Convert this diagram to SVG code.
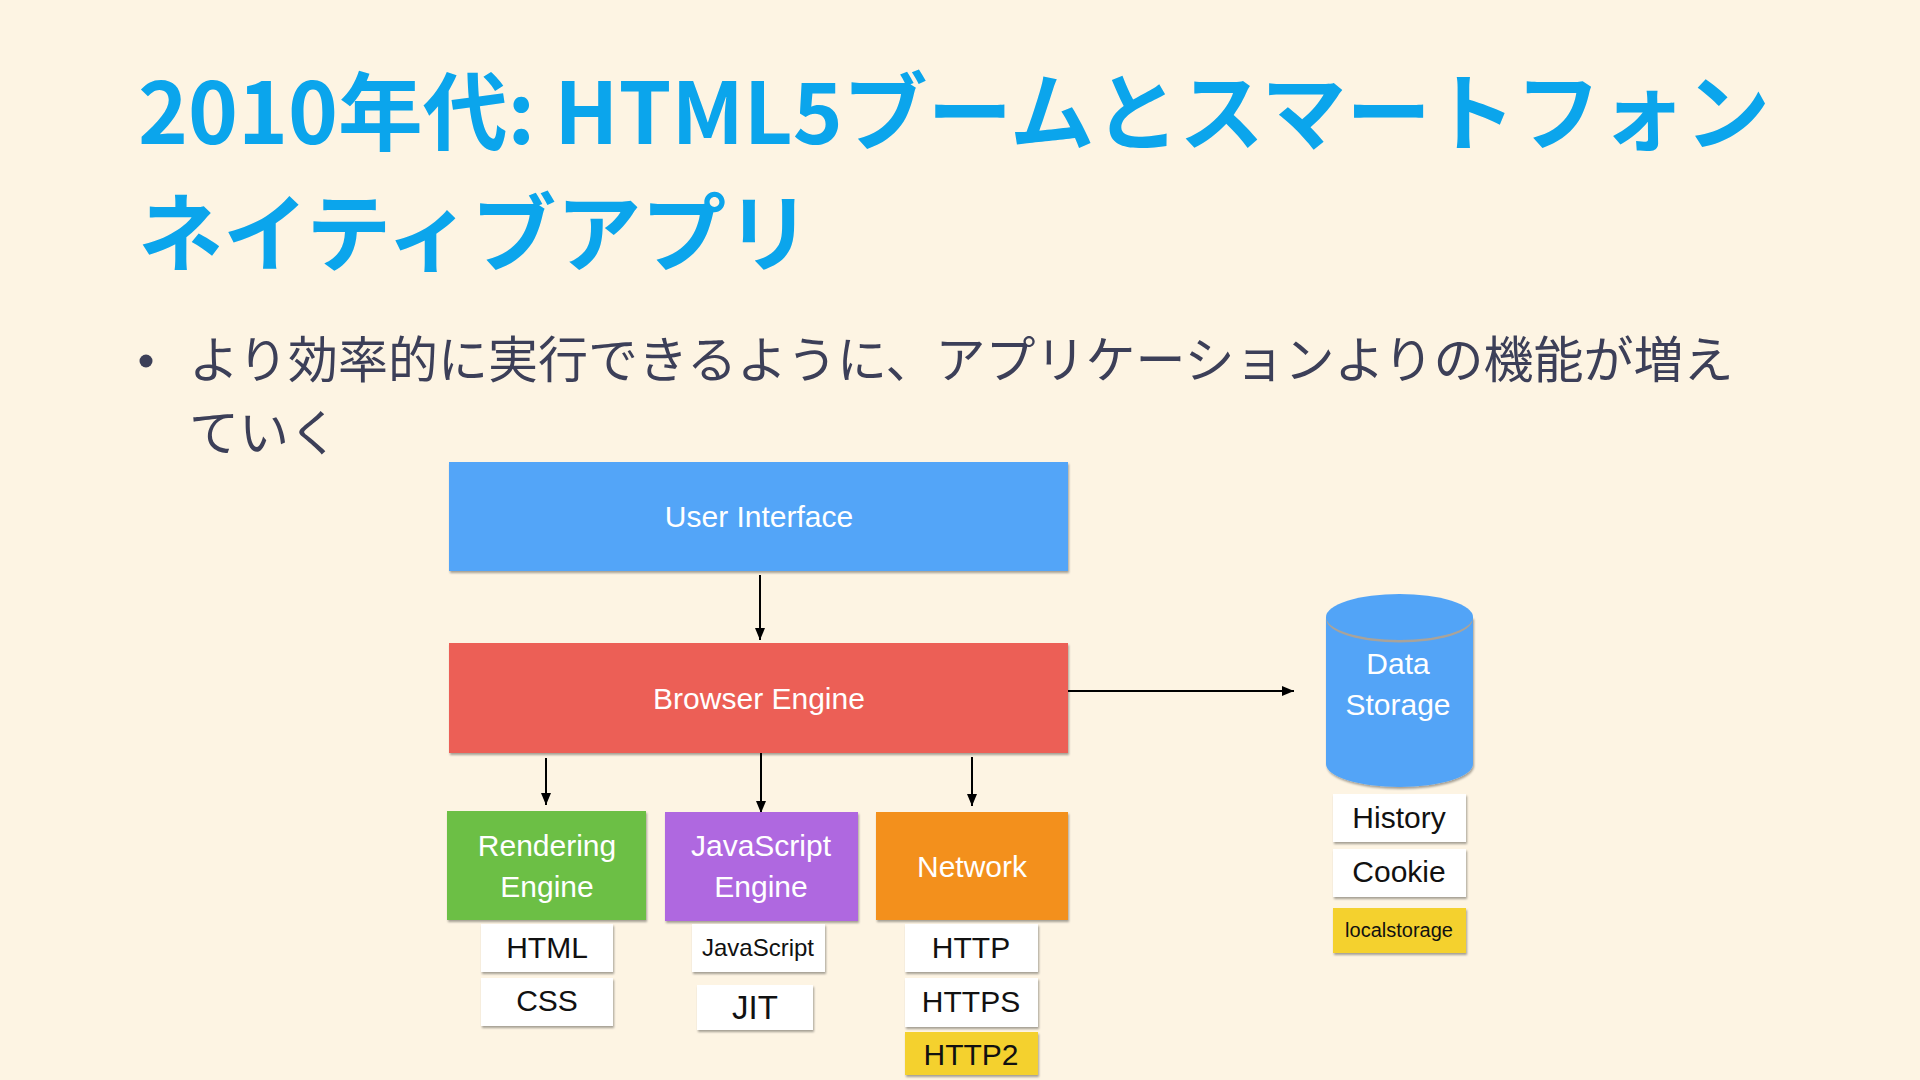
<svg xmlns="http://www.w3.org/2000/svg" width="1920" height="1080" viewBox="0 0 1920 1080">
  <defs>
    <style>
      .title { font-family: "Noto Sans CJK JP", "Noto Sans", sans-serif; font-weight: 700; font-size: 85px; fill: #0BA5EC; }
      .body { font-family: "Noto Sans CJK JP", "Noto Sans", sans-serif; font-weight: 400; font-size: 50px; fill: #3C3F58; }
      .lbl { font-family: "Liberation Sans", Arial, sans-serif; font-size: 30px; fill: #FFFFFF; text-anchor: middle; }
      .sub { font-family: "Liberation Sans", Arial, sans-serif; font-size: 30px; fill: #111111; text-anchor: middle; }
      .conn { stroke: #000000; stroke-width: 2; fill: none; marker-end: url(#arrow); }
      .wbox { fill: #FFFFFF; filter: url(#shadow); }
      .ybox { fill: #F4D12F; filter: url(#shadow); }
    </style>
    <filter id="shadow" x="-10%" y="-10%" width="120%" height="130%">
      <feDropShadow dx="1" dy="2" stdDeviation="1.2" flood-color="#000000" flood-opacity="0.35"/>
    </filter>
    <marker id="arrow" markerUnits="userSpaceOnUse" markerWidth="12" markerHeight="10" refX="12" refY="5" orient="auto">
      <path d="M0,0 L12,5 L0,10 z" fill="#000000"/>
    </marker>
  </defs>

  <rect x="0" y="0" width="1920" height="1080" fill="#FDF4E3"/>

  <g id="title">
    <text class="title" x="138" y="144" textLength="1632" lengthAdjust="spacingAndGlyphs">2010年代: HTML5ブームとスマートフォン</text>
    <text class="title" x="138" y="265">ネイティブアプリ</text>
  </g>

  <g id="bullet">
    <circle cx="146" cy="361" r="6.5" fill="#3C3F58"/>
    <text class="body" x="189" y="378">より効率的に実行できるように、アプリケーションよりの機能が増え</text>
    <text class="body" x="189" y="451">ていく</text>
  </g>

  <g id="connectors">
    <line class="conn" x1="760" y1="575" x2="760" y2="640"/>
    <line class="conn" x1="546" y1="758" x2="546" y2="805"/>
    <line class="conn" x1="761" y1="753" x2="761" y2="813"/>
    <line class="conn" x1="972" y1="757" x2="972" y2="806"/>
    <line class="conn" x1="1068" y1="691" x2="1294" y2="691"/>
  </g>

  <g id="user-interface">
    <rect x="449" y="462" width="619" height="109" fill="#52A5F8" filter="url(#shadow)"/>
    <text class="lbl" x="759" y="527">User Interface</text>
  </g>

  <g id="browser-engine">
    <rect x="449" y="643" width="619" height="110" fill="#EC5E57" filter="url(#shadow)"/>
    <text class="lbl" x="759" y="709">Browser Engine</text>
  </g>

  <g id="rendering-engine">
    <rect x="447" y="811" width="199" height="109" fill="#6CBF44" filter="url(#shadow)"/>
    <text class="lbl" x="547" y="856">Rendering</text>
    <text class="lbl" x="547" y="897">Engine</text>
  </g>

  <g id="javascript-engine">
    <rect x="665" y="812" width="193" height="109" fill="#AF67E0" filter="url(#shadow)"/>
    <text class="lbl" x="761" y="856">JavaScript</text>
    <text class="lbl" x="761" y="897">Engine</text>
  </g>

  <g id="network">
    <rect x="876" y="812" width="192" height="108" fill="#F3901E" filter="url(#shadow)"/>
    <text class="lbl" x="972" y="877">Network</text>
  </g>

  <g id="html">
    <rect class="wbox" x="481" y="924" width="132" height="48"/>
    <text class="sub" x="547" y="958">HTML</text>
  </g>
  <g id="css">
    <rect class="wbox" x="481" y="978" width="132" height="48"/>
    <text class="sub" x="547" y="1011">CSS</text>
  </g>

  <g id="javascript">
    <rect class="wbox" x="692" y="924" width="133" height="48"/>
    <text class="sub" x="758" y="956" style="font-size:24px">JavaScript</text>
  </g>
  <g id="jit">
    <rect class="wbox" x="697" y="985" width="116" height="45"/>
    <text class="sub" x="755" y="1019" style="font-size:33px">JIT</text>
  </g>

  <g id="http">
    <rect class="wbox" x="905" y="924" width="133" height="48"/>
    <text class="sub" x="971" y="958">HTTP</text>
  </g>
  <g id="https">
    <rect class="wbox" x="905" y="978" width="133" height="49"/>
    <text class="sub" x="971" y="1012">HTTPS</text>
  </g>
  <g id="http2">
    <rect class="ybox" x="905" y="1032" width="133" height="43"/>
    <text class="sub" x="971" y="1065">HTTP2</text>
  </g>

  <g id="data-storage">
    <path d="M1326,617 L1326,764 A73.5,23 0 0 0 1473,764 L1473,617 Z" fill="#52A4F7" filter="url(#shadow)"/>
    <ellipse cx="1399.5" cy="619.5" rx="73" ry="23" fill="#A9A39A"/>
    <ellipse cx="1399.5" cy="617" rx="73.5" ry="23" fill="#52A4F7"/>
    <text class="lbl" x="1398" y="674">Data</text>
    <text class="lbl" x="1398" y="715">Storage</text>
  </g>

  <g id="history">
    <rect class="wbox" x="1333" y="794" width="133" height="48"/>
    <text class="sub" x="1399" y="828">History</text>
  </g>
  <g id="cookie">
    <rect class="wbox" x="1333" y="849" width="133" height="48"/>
    <text class="sub" x="1399" y="882">Cookie</text>
  </g>
  <g id="localstorage">
    <rect class="ybox" x="1333" y="908" width="133" height="45"/>
    <text class="sub" x="1399" y="937" style="font-size:20px">localstorage</text>
  </g>
</svg>
